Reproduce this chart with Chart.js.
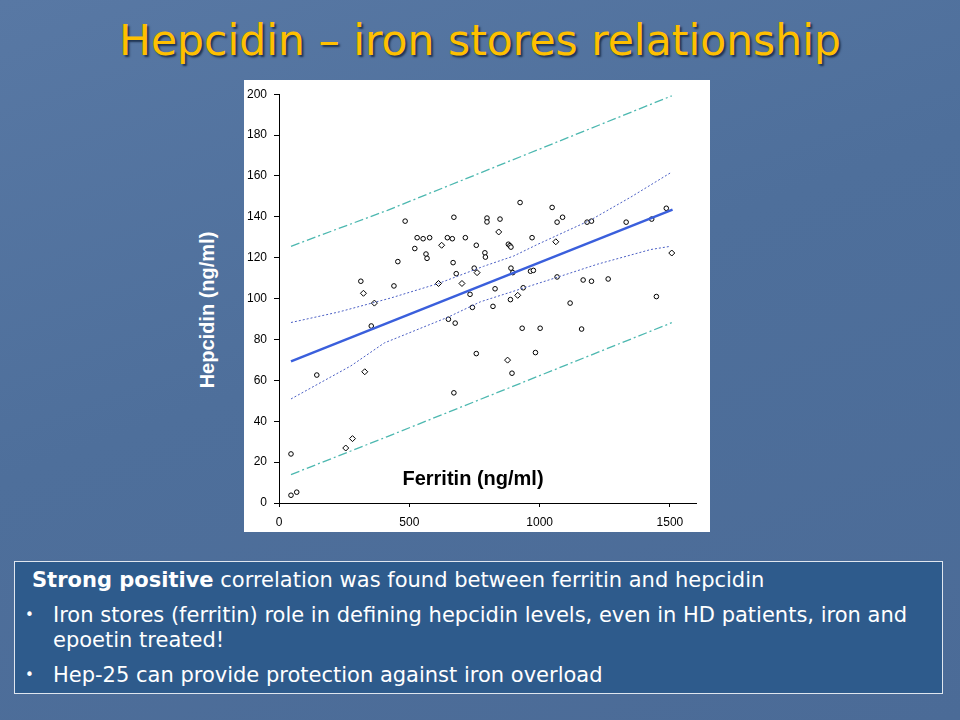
<!DOCTYPE html>
<html>
<head>
<meta charset="utf-8">
<script src="https://cdn.jsdelivr.net/npm/chart.js@4.4.1/dist/chart.umd.min.js"></script>
<style>
  html, body { margin: 0; padding: 0; }
  body {
    width: 960px; height: 720px; position: relative; overflow: hidden;
    background: linear-gradient(160deg, #5878a4 0%, #4e6f9b 45%, #4b6b97 100%);
    font-family: "DejaVu Sans", sans-serif;
  }
  #title {
    position: absolute; left: 0; top: 13px; width: 960px; text-align: center;
    color: #ffc000; font-size: 42.5px; line-height: 56px;
    text-shadow: 2px 2px 2px #1f3350;
  }
  #chartBox {
    position: absolute; left: 244px; top: 80px; width: 466px; height: 452px;
    background: #fff;
  }
  #yLabel {
    position: absolute; left: 207px; top: 310px;
    transform: translate(-50%, -50%) rotate(-90deg);
    color: #fff; font: bold 20px "Liberation Sans", Arial, sans-serif; white-space: nowrap;
  }
  #xLabel {
    position: absolute; left: 473px; top: 478px; transform: translate(-50%, -50%);
    color: #000; font: bold 20px "Liberation Sans", Arial, sans-serif; white-space: nowrap;
  }
  #notes {
    position: absolute; left: 14px; top: 561px; width: 929px; height: 133px;
    background: #2e5b8c; border: 1px solid #dfe6ef; box-sizing: border-box;
    color: #fff; font-size: 21px; line-height: 25px;
  }
  #notes .lead { position: absolute; left: 17px; top: 6px; }
  #notes ul { list-style: none; margin: 0; padding: 0; position: absolute; left: 8px; top: 41px; width: 905px; }
  #notes li { position: relative; padding-left: 30px; margin-bottom: 10px; }
  #notes li::before { content: "•"; position: absolute; left: 2px; font-size: 15px; }
</style>
</head>
<body>
<div id="title">Hepcidin – iron stores relationship</div>
<div id="chartBox"><canvas id="chart" width="466" height="452"></canvas></div>
<div id="yLabel">Hepcidin (ng/ml)</div>
<div id="xLabel">Ferritin (ng/ml)</div>
<div id="notes">
  <div class="lead"><b>Strong positive</b> correlation was found between ferritin and hepcidin</div>
  <ul>
    <li>Iron stores (ferritin) role in defining hepcidin levels, even in HD patients, iron and epoetin treated!</li>
    <li>Hep-25 can provide protection against iron overload</li>
  </ul>
</div>
<script>
// patients drawn as open circles
const ferritinCircle = [314, 441, 456, 484, 521, 530, 553, 564, 568, 578, 646, 665, 671, 668, 680, 715, 733, 742, 749, 757,
  790, 792, 925, 1048, 1088, 1067, 798, 798, 848, 880, 886, 890, 971, 1182, 1199, 1332, 1430, 1486, 890, 897,
  965, 976, 1067, 1167, 1199, 1263, 829, 937, 888, 821, 1117, 1448, 354, 650, 676, 757, 671, 145, 46, 46,
  68, 933, 1002, 1161, 984, 894];
const hepcidinCircle = [108.5, 106.2, 118.1, 137.9, 124.5, 129.8, 129.3, 121.8, 119.7, 129.8, 129.8, 129.3, 139.8, 117.6, 112.2, 129.8, 102.1, 95.7, 114.9, 126.1,
  122.4, 120.3, 147.0, 144.6, 139.8, 137.4, 139.4, 137.5, 138.9, 126.6, 125.9, 125.2, 129.8, 137.4, 137.9, 137.4, 138.9, 144.2, 114.9, 112.7,
  113.4, 113.8, 110.6, 109.1, 108.5, 109.6, 104.8, 105.3, 99.5, 96.2, 97.8, 101.0, 86.6, 89.9, 88.0, 73.1, 53.9, 62.6, 24.0, 3.8,
  5.3, 85.5, 85.5, 85.1, 73.6, 63.5];

// patients drawn as diamonds
const ferritinDiamond = [324, 366, 624, 612, 702, 760, 843, 1062, 1507, 916, 329, 256, 282, 877];
const hepcidinDiamond = [102.6, 97.8, 126.1, 107.4, 107.4, 112.7, 132.6, 127.8, 122.3, 101.6, 64.2, 26.9, 31.5, 69.9];

// regression line
const fitX = [46, 1510];
const fitY = [69.3, 143.5];

// confidence band of the mean
const ciX = [46, 231, 429, 612, 785, 900, 990, 1195, 1349, 1503];
const ciUpper = [88.3, 93.5, 100.3, 107.4, 115.8, 120.8, 126.4, 138.4, 149.6, 161.6];
const ciLowX = [46, 276, 404, 650, 772, 1067, 1221, 1426, 1503];
const ciLower = [50.9, 67.1, 78.3, 91.0, 98.4, 110.4, 116.8, 124.0, 125.6];

// prediction band
const piX = [46, 416, 1507];
const piUpper = [125.6, 143.2, 199.2];
const piLower = [13.9, 32.5, 88.2];

const xTicks = [0, 500, 1000, 1500];
const yTicks = [0, 20, 40, 60, 80, 100, 120, 140, 160, 180, 200];

const pts = (xs, ys) => xs.map((x, i) => ({ x: x, y: ys[i] }));

const lineSet = (xs, ys, color, width, dash) => ({
    type: 'line',
    data: pts(xs, ys),
    borderColor: color,
    borderWidth: width,
    borderDash: dash,
    pointRadius: 0,
    fill: false,
    tension: 0
});

const axisFont = { family: '"Liberation Sans", Arial, sans-serif', size: 12 };

new Chart(document.getElementById('chart'), {
    type: 'scatter',
    data: {
        datasets: [
            lineSet(piX, piUpper, '#4db8b0', 1.3, [9, 3, 2, 3]),
            lineSet(piX, piLower, '#4db8b0', 1.3, [9, 3, 2, 3]),
            lineSet(ciX, ciUpper, '#4b5fc4', 1, [2, 2]),
            lineSet(ciLowX, ciLower, '#4b5fc4', 1, [2, 2]),
            lineSet(fitX, fitY, '#3a5fdc', 2.5, []),
            {
                data: pts(ferritinCircle, hepcidinCircle),
                pointStyle: 'circle',
                pointRadius: 2.3,
                borderColor: '#000',
                borderWidth: 1,
                backgroundColor: '#fff'
            },
            {
                data: pts(ferritinDiamond, hepcidinDiamond),
                pointStyle: 'rectRot',
                pointRadius: 3,
                borderColor: '#000',
                borderWidth: 1,
                backgroundColor: '#fff'
            }
        ]
    },
    options: {
        responsive: false,
        animation: false,
        layout: { padding: { top: 6, right: 14, left: 0, bottom: 0 } },
        plugins: { legend: { display: false }, tooltip: { enabled: false } },
        scales: {
            x: {
                type: 'linear',
                min: 0,
                max: 1600,
                afterBuildTicks: (scale) => { scale.ticks = xTicks.map(v => ({ value: v })); },
                afterFit: (scale) => { scale.height = 29; },
                grid: { drawOnChartArea: false, color: '#000', tickLength: 4 },
                border: { color: '#000', width: 1 },
                ticks: { color: '#000', font: axisFont, padding: 8, maxRotation: 0, callback: (v) => String(v) }
            },
            y: {
                min: 0,
                max: 200,
                afterBuildTicks: (scale) => { scale.ticks = yTicks.map(v => ({ value: v })); },
                afterFit: (scale) => { scale.width = 35; },
                grid: { drawOnChartArea: false, color: '#000', tickLength: 5 },
                border: { color: '#000', width: 1 },
                ticks: { color: '#000', font: axisFont, padding: 7, callback: (v) => String(v) }
            }
        }
    }
});
</script>
</body>
</html>
